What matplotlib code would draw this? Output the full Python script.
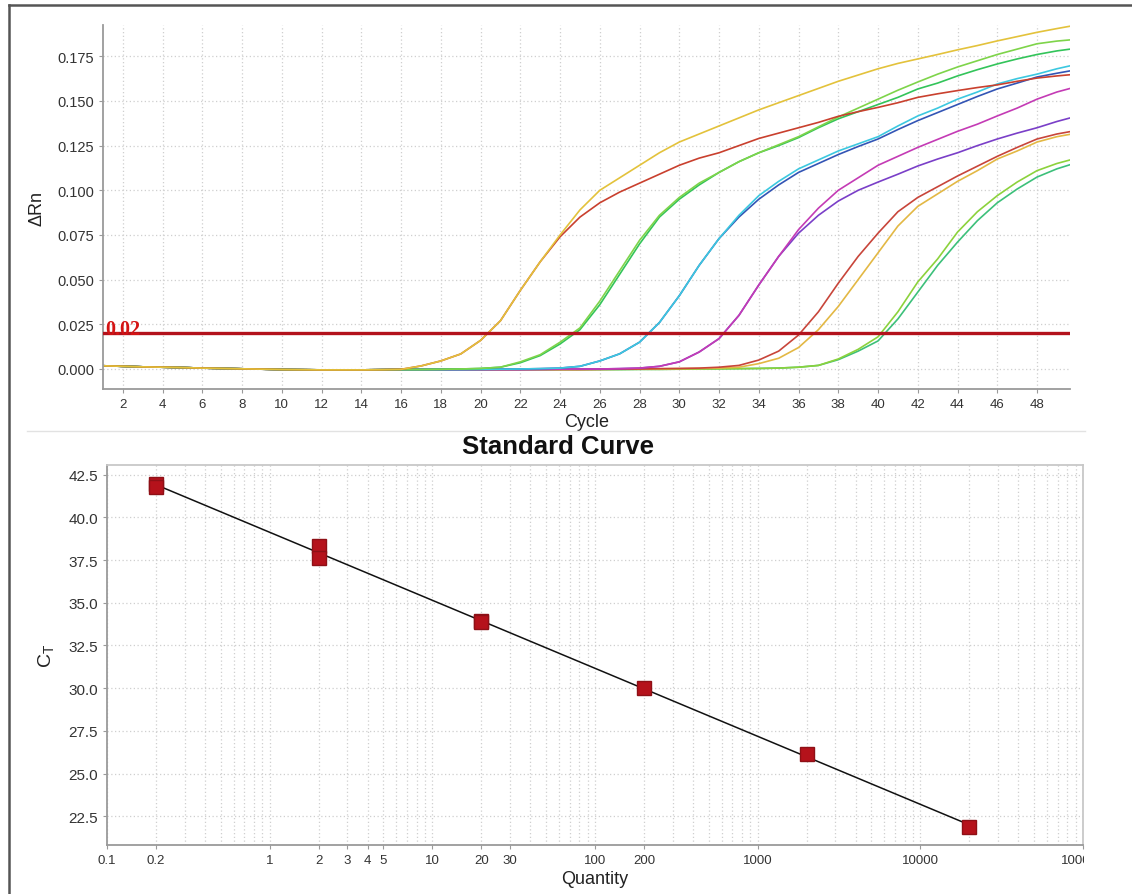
import numpy as np
import matplotlib
matplotlib.use('Agg')
from matplotlib import pyplot as plt
from matplotlib.lines import Line2D
from matplotlib.transforms import Bbox, TransformedBbox
from matplotlib.ticker import FixedLocator, NullFormatter

plt.rcParams['font.family'] = ['Liberation Sans', 'DejaVu Sans']

# amplification plot data (cycles 1..50)
cycles = np.arange(1, 51)
baseline = [0.0018, 0.0015, 0.0012, 0.0010, 0.0008, 0.0005, 0.0003, 0.0001, -0.0001, -0.0003,
            -0.0004, -0.0005, -0.0005, -0.0005, -0.0004]

# values for cycles 16..50
yellow1 = [-0.0002, 0.0017, 0.0045, 0.0084, 0.016, 0.027, 0.044, 0.060, 0.075, 0.089,
           0.100, 0.107, 0.114, 0.121, 0.127, 0.1315, 0.136, 0.1405, 0.145, 0.149,
           0.153, 0.157, 0.161, 0.1645, 0.168, 0.171, 0.1735, 0.176, 0.1786, 0.181,
           0.1836, 0.186, 0.1884, 0.1905, 0.1925]
red1 = [-0.0002, 0.0017, 0.0045, 0.0084, 0.016, 0.027, 0.044, 0.060, 0.074, 0.085,
        0.093, 0.099, 0.104, 0.109, 0.114, 0.118, 0.121, 0.125, 0.129, 0.132,
        0.135, 0.138, 0.1414, 0.144, 0.1464, 0.149, 0.152, 0.154, 0.1558, 0.1575,
        0.159, 0.161, 0.1628, 0.164, 0.165]
green2a = [-0.0003, -0.0003, -0.0002, 0.0, 0.0003, 0.001, 0.004, 0.008, 0.015, 0.023,
           0.038, 0.055, 0.072, 0.086, 0.096, 0.104, 0.110, 0.116, 0.121, 0.1255,
           0.130, 0.1355, 0.141, 0.146, 0.151, 0.156, 0.1606, 0.165, 0.169, 0.1725,
           0.176, 0.179, 0.182, 0.1835, 0.1845]
green2b = [-0.0003, -0.0003, -0.0002, 0.0, 0.0003, 0.001, 0.0035, 0.0075, 0.014, 0.022,
           0.036, 0.053, 0.070, 0.085, 0.095, 0.103, 0.110, 0.116, 0.121, 0.125,
           0.1295, 0.135, 0.140, 0.144, 0.148, 0.152, 0.1567, 0.160, 0.164, 0.1675,
           0.1707, 0.1735, 0.176, 0.178, 0.1795]
cyan3 = [-0.0003, -0.0003, -0.0003, -0.0003, -0.0002, -0.0001, 0.0, 0.0002, 0.0005, 0.0015,
         0.0045, 0.0085, 0.015, 0.026, 0.041, 0.058, 0.073, 0.086, 0.097, 0.105,
         0.112, 0.117, 0.122, 0.126, 0.130, 0.136, 0.1416, 0.146, 0.151, 0.155,
         0.1595, 0.1625, 0.165, 0.168, 0.1705]
blue3 = [-0.0003, -0.0003, -0.0003, -0.0003, -0.0002, -0.0001, 0.0, 0.0002, 0.0005, 0.0015,
         0.0045, 0.0085, 0.015, 0.026, 0.041, 0.058, 0.073, 0.085, 0.095, 0.103,
         0.110, 0.115, 0.120, 0.1245, 0.1287, 0.134, 0.139, 0.1435, 0.148, 0.1525,
         0.1567, 0.160, 0.1634, 0.1655, 0.1675]
magenta4 = [-0.0003, -0.0003, -0.0003, -0.0003, -0.0003, -0.0003, -0.0003, -0.0002, -0.0001, 0.0,
            0.0, 0.0002, 0.0005, 0.0015, 0.004, 0.0095, 0.017, 0.030, 0.047, 0.063,
            0.078, 0.090, 0.100, 0.107, 0.114, 0.119, 0.124, 0.1285, 0.133, 0.137,
            0.1416, 0.146, 0.151, 0.155, 0.158]
purple4 = [-0.0003, -0.0003, -0.0003, -0.0003, -0.0003, -0.0003, -0.0003, -0.0002, -0.0001, 0.0,
           0.0, 0.0002, 0.0005, 0.0015, 0.004, 0.0095, 0.017, 0.030, 0.047, 0.063,
           0.076, 0.086, 0.094, 0.100, 0.1046, 0.109, 0.1136, 0.1175, 0.121, 0.125,
           0.1287, 0.132, 0.135, 0.1385, 0.1415]
red5 = [-0.0003, -0.0003, -0.0003, -0.0003, -0.0003, -0.0003, -0.0003, -0.0003, -0.0003, -0.0003,
        -0.0002, -0.0001, 0.0, 0.0002, 0.0003, 0.0005, 0.001, 0.002, 0.005, 0.010,
        0.019, 0.032, 0.048, 0.063, 0.076, 0.088, 0.096, 0.102, 0.108, 0.1135,
        0.119, 0.124, 0.1287, 0.1315, 0.1335]
yellow5 = [-0.0003, -0.0003, -0.0003, -0.0003, -0.0003, -0.0003, -0.0003, -0.0003, -0.0003, -0.0003,
           -0.0002, -0.0001, 0.0, 0.0001, 0.0002, 0.0003, 0.0005, 0.001, 0.003, 0.006,
           0.012, 0.022, 0.035, 0.050, 0.065, 0.080, 0.091, 0.098, 0.105, 0.111,
           0.1175, 0.122, 0.127, 0.130, 0.132]
green6a = [-0.0003, -0.0003, -0.0003, -0.0003, -0.0003, -0.0003, -0.0003, -0.0003, -0.0003, -0.0003,
           -0.0003, -0.0003, -0.0002, -0.0002, -0.0001, 0.0, 0.0001, 0.0002, 0.0003, 0.0005,
           0.001, 0.002, 0.0056, 0.011, 0.018, 0.032, 0.0487, 0.0616, 0.0766, 0.088,
           0.097, 0.1046, 0.111, 0.115, 0.118]
green6b = [-0.0003, -0.0003, -0.0003, -0.0003, -0.0003, -0.0003, -0.0003, -0.0003, -0.0003, -0.0003,
           -0.0003, -0.0003, -0.0002, -0.0002, -0.0001, 0.0, 0.0001, 0.0002, 0.0003, 0.0005,
           0.001, 0.002, 0.0052, 0.010, 0.0157, 0.028, 0.043, 0.058, 0.071, 0.083,
           0.093, 0.1007, 0.1074, 0.112, 0.1155]

curves = [
    (green6b, '#3cc07a'), (green6a, '#8cd23c'),
    (yellow5, '#e3b844'), (red5, '#c8453a'),
    (purple4, '#7a3fc8'), (magenta4, '#c43bb5'),
    (blue3, '#3355b5'), (cyan3, '#3cc8e0'),
    (green2b, '#33c45a'), (green2a, '#7ed44a'),
    (red1, '#c9402e'), (yellow1, '#e3c23b'),
]
threshold = 0.02

# standard curve data
quantity = [0.2, 0.2, 2, 2, 20, 20, 200, 2000, 20000]
ct = [41.96, 41.8, 38.34, 37.62, 33.92, 33.88, 29.99, 26.15, 21.86]
qty_ticks = [0.1, 0.2, 1, 2, 3, 4, 5, 10, 20, 30, 100, 200, 1000, 10000, 100000]
qty_labels = ['0.1', '0.2', '1', '2', '3', '4', '5', '10', '20', '30', '100', '200', '1000', '10000', '100000']

grid_kw = dict(color='#cfcfcf', linestyle=(0, (1, 2)), linewidth=0.9)
tick_col = '#333333'
spine_col = '#9a9a9a'

fig = plt.figure(figsize=(11.32, 8.95), dpi=100)

# frame lines
fig.add_artist(Line2D([9/1132, 9/1132], [0, 1 - 6/895], color='#555555', lw=1.8, transform=fig.transFigure))
fig.add_artist(Line2D([9/1132, 1], [1 - 6/895, 1 - 6/895], color='#555555', lw=1.8, transform=fig.transFigure))
fig.add_artist(Line2D([27/1132, 1085/1132], [1 - 432/895, 1 - 432/895], color='#e2e2e2', lw=1, transform=fig.transFigure))

# amplification plot
ax1 = fig.add_axes([103/1132, 1 - 390/895, 967/1132, 364/895])
for vals, col in curves:
    ax1.plot(cycles, baseline + vals, color=col, lw=1.2)
ax1.axhline(threshold, color='#b3121c', lw=2.4, zorder=5)
ax1.text(1.1, threshold - 0.0004, '0.02', color='#d41414', fontsize=14.5, fontweight='bold',
         family=['Liberation Serif', 'DejaVu Serif'], va='baseline', ha='left', zorder=6)
ax1.set_xlim(1, 49.66)
ax1.set_ylim(-0.0112, 0.1925)
ax1.set_xticks(np.arange(2, 50, 2))
ax1.set_yticks(np.arange(0, 0.176, 0.025))
ax1.yaxis.set_major_formatter(plt.FormatStrFormatter('%.3f'))
ax1.grid(True, **grid_kw)
ax1.set_axisbelow(True)
for s in ['top', 'right']:
    ax1.spines[s].set_visible(False)
for s in ['left', 'bottom']:
    ax1.spines[s].set_color(spine_col)
    ax1.spines[s].set_linewidth(1.3)
ax1.tick_params(colors=tick_col, length=3, color=spine_col)
ax1.tick_params(axis='y', labelsize=10.5)
ax1.tick_params(axis='x', labelsize=9.5)
ax1.set_xlabel('Cycle', fontsize=13, color='#222222', labelpad=2)
ax1.set_ylabel('ΔRn', fontsize=13, color='#222222', labelpad=8)

# standard curve
ax2 = fig.add_axes([107/1132, 1 - 845.7/895, 976/1132, 379.7/895])
ax2.set_xscale('log')
ax2.set_xlim(0.1, 100000)
ax2.set_ylim(20.83, 43.07)
slope, icpt = np.polyfit(np.log10(quantity), ct, 1)
fx = np.array([min(quantity), max(quantity)])
ax2.plot(fx, slope * np.log10(fx) + icpt, color='#111111', lw=1.1, zorder=3)
ax2.plot(quantity, ct, 's', color='#b5121b', markeredgecolor='#8e1016', markersize=9.5, zorder=4)
ax2.xaxis.set_major_locator(FixedLocator(qty_ticks))
ax2.set_xticklabels(qty_labels)
ax2.xaxis.set_minor_locator(FixedLocator([m * 10.0 ** e for e in range(-1, 5) for m in range(2, 10)]))
ax2.xaxis.set_minor_formatter(NullFormatter())
ax2.set_yticks(np.arange(22.5, 42.6, 2.5))
ax2.yaxis.set_major_formatter(plt.FormatStrFormatter('%.1f'))
ax2.grid(True, which='both', **grid_kw)
ax2.set_axisbelow(True)
for s in ax2.spines.values():
    s.set_color(spine_col)
    s.set_linewidth(1.3)
ax2.spines['top'].set_color('#c8c8c8')
ax2.spines['right'].set_color('#c8c8c8')
ax2.tick_params(colors=tick_col, length=3, color=spine_col)
ax2.tick_params(axis='y', labelsize=11)
ax2.tick_params(axis='x', labelsize=9.5)
ax2.tick_params(which='minor', length=0)
ax2.set_xlabel('Quantity', fontsize=13, color='#222222', labelpad=3)
ax2.set_ylabel(r'C$_\mathregular{T}$', fontsize=14, color='#222222', labelpad=8)
fig.text(558/1132, 1 - 447/895, 'Standard Curve', fontsize=18.5, fontweight='bold',
         ha='center', va='center', color='#111111')

clip = TransformedBbox(Bbox.from_extents(0, 0, 10.84, 8.95), fig.dpi_scale_trans)
for lab in ax2.get_xticklabels():
    lab.set_clip_box(clip)
    lab.set_clip_on(True)

fig.savefig('out.png', dpi=100, facecolor='white')
